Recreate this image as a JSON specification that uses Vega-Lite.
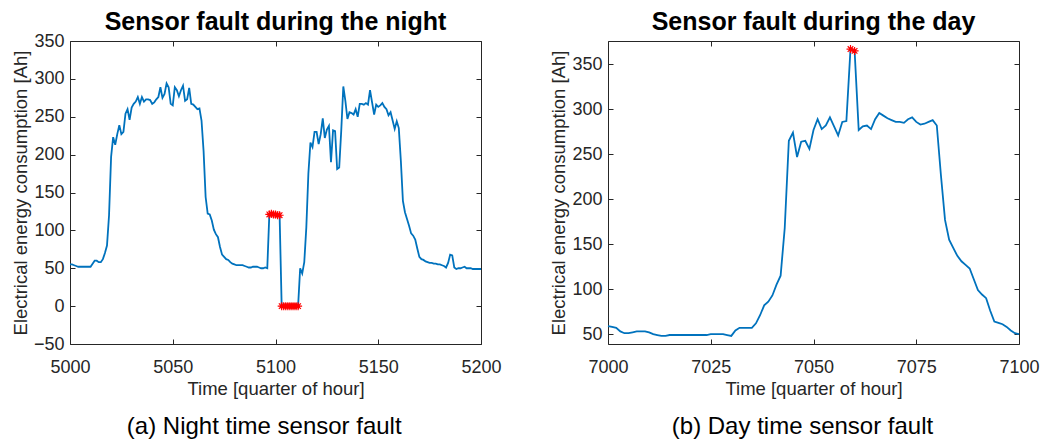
{
  "$schema": "https://vega.github.io/schema/vega-lite/v6.json",
  "background": "white",
  "padding": {"left": 11, "top": 9, "right": 5, "bottom": 0},
  "spacing": 47,
  "config": {
    "font": "Liberation Sans",
    "view": {"stroke": null},
    "axis": {
      "grid": false,
      "tickSize": -5,
      "domainColor": "#262626",
      "domainWidth": 1,
      "tickColor": "#262626",
      "labelColor": "#262626",
      "titleColor": "#262626",
      "labelFont": "Liberation Sans",
      "titleFont": "Liberation Sans",
      "labelFontSize": 18,
      "titleFontSize": 18.5,
      "titleFontWeight": "normal",
      "labelFlush": false,
      "labelOverlap": false,
      "format": "d"
    },
    "axisX": {"labelPadding": 19, "titlePadding": 3},
    "axisY": {"labelPadding": 11, "titlePadding": 3},
    "title": {"font": "Liberation Sans", "fontSize": 25, "fontWeight": "bold", "color": "#000000", "offset": 6}
  },
  "datasets": {
    "night": [
      {"t":5000,"v":55},{"t":5001,"v":55},{"t":5002,"v":54},{"t":5003,"v":53},{"t":5004,"v":52},{"t":5005,"v":52},{"t":5006,"v":52},{"t":5007,"v":52},{"t":5008,"v":52},{"t":5009,"v":52},
      {"t":5010,"v":52},{"t":5011,"v":56},{"t":5012,"v":60},{"t":5013,"v":60},{"t":5014,"v":58},{"t":5015,"v":58},{"t":5016,"v":62},{"t":5017,"v":70},{"t":5018,"v":80},{"t":5019,"v":120},
      {"t":5020,"v":197},{"t":5021,"v":223},{"t":5022,"v":213},{"t":5023,"v":227},{"t":5024,"v":239},{"t":5025,"v":227},{"t":5026,"v":230},{"t":5027,"v":254},{"t":5028,"v":260},{"t":5029,"v":246},
      {"t":5030,"v":262},{"t":5031,"v":267},{"t":5032,"v":270},{"t":5033,"v":276},{"t":5034,"v":267},{"t":5035,"v":276},{"t":5036,"v":270},{"t":5037,"v":273},{"t":5038,"v":273},{"t":5039,"v":272},
      {"t":5040,"v":267},{"t":5041,"v":269},{"t":5042,"v":273},{"t":5043,"v":276},{"t":5044,"v":289},{"t":5045,"v":275},{"t":5046,"v":280},{"t":5047,"v":294},{"t":5048,"v":289},{"t":5049,"v":267},
      {"t":5050,"v":265},{"t":5051,"v":289},{"t":5052,"v":285},{"t":5053,"v":277},{"t":5054,"v":285},{"t":5055,"v":291},{"t":5056,"v":271},{"t":5057,"v":273},{"t":5058,"v":288},{"t":5059,"v":267},
      {"t":5060,"v":266},{"t":5061,"v":263},{"t":5062,"v":260},{"t":5063,"v":261},{"t":5064,"v":245},{"t":5065,"v":205},{"t":5066,"v":144},{"t":5067,"v":122},{"t":5068,"v":121},{"t":5069,"v":113},
      {"t":5070,"v":101},{"t":5071,"v":95},{"t":5072,"v":91},{"t":5073,"v":78},{"t":5074,"v":68},{"t":5075,"v":65},{"t":5076,"v":62},{"t":5077,"v":61},{"t":5078,"v":58},{"t":5079,"v":56},
      {"t":5080,"v":55},{"t":5081,"v":54},{"t":5082,"v":54},{"t":5083,"v":54},{"t":5084,"v":54},{"t":5085,"v":53},{"t":5086,"v":52},{"t":5087,"v":51},{"t":5088,"v":51},{"t":5089,"v":52},
      {"t":5090,"v":52},{"t":5091,"v":52},{"t":5092,"v":51},{"t":5093,"v":50},{"t":5094,"v":50},{"t":5095,"v":51},{"t":5096,"v":50},{"t":5097,"v":121},{"t":5098,"v":122},{"t":5099,"v":121},
      {"t":5100,"v":121},{"t":5101,"v":120},{"t":5102,"v":120},{"t":5103,"v":0},{"t":5104,"v":0},{"t":5105,"v":0},{"t":5106,"v":0},{"t":5107,"v":0},{"t":5108,"v":0},{"t":5109,"v":0},
      {"t":5110,"v":0},{"t":5111,"v":0},{"t":5112,"v":50},{"t":5113,"v":43},{"t":5114,"v":58},{"t":5115,"v":104},{"t":5116,"v":175},{"t":5117,"v":216},{"t":5118,"v":210},{"t":5119,"v":230},
      {"t":5120,"v":230},{"t":5121,"v":214},{"t":5122,"v":227},{"t":5123,"v":248},{"t":5124,"v":222},{"t":5125,"v":233},{"t":5126,"v":238},{"t":5127,"v":190},{"t":5128,"v":232},{"t":5129,"v":231},
      {"t":5130,"v":181},{"t":5131,"v":183},{"t":5132,"v":232},{"t":5133,"v":290},{"t":5134,"v":271},{"t":5135,"v":247},{"t":5136,"v":256},{"t":5137,"v":255},{"t":5138,"v":253},{"t":5139,"v":260},
      {"t":5140,"v":250},{"t":5141,"v":267},{"t":5142,"v":267},{"t":5143,"v":266},{"t":5144,"v":268},{"t":5145,"v":266},{"t":5146,"v":285},{"t":5147,"v":269},{"t":5148,"v":253},{"t":5149,"v":266},
      {"t":5150,"v":263},{"t":5151,"v":265},{"t":5152,"v":268},{"t":5153,"v":263},{"t":5154,"v":260},{"t":5155,"v":252},{"t":5156,"v":256},{"t":5157,"v":245},{"t":5158,"v":234},{"t":5159,"v":244},
      {"t":5160,"v":235},{"t":5161,"v":192},{"t":5162,"v":139},{"t":5163,"v":124},{"t":5164,"v":115},{"t":5165,"v":106},{"t":5166,"v":96},{"t":5167,"v":93},{"t":5168,"v":88},{"t":5169,"v":76},
      {"t":5170,"v":65},{"t":5171,"v":62},{"t":5172,"v":61},{"t":5173,"v":59},{"t":5174,"v":58},{"t":5175,"v":57},{"t":5176,"v":57},{"t":5177,"v":56},{"t":5178,"v":56},{"t":5179,"v":55},
      {"t":5180,"v":55},{"t":5181,"v":54},{"t":5182,"v":53},{"t":5183,"v":51},{"t":5184,"v":57},{"t":5185,"v":68},{"t":5186,"v":67},{"t":5187,"v":51},{"t":5188,"v":49},{"t":5189,"v":50},
      {"t":5190,"v":50},{"t":5191,"v":51},{"t":5192,"v":52},{"t":5193,"v":50},{"t":5194,"v":50},{"t":5195,"v":50},{"t":5196,"v":49},{"t":5197,"v":49},{"t":5198,"v":49},{"t":5199,"v":49},
      {"t":5200,"v":49}
    ],
    "nightFault": [
      {"t":5097,"v":121},{"t":5098,"v":122},{"t":5099,"v":121},{"t":5100,"v":121},{"t":5101,"v":120},{"t":5102,"v":120},
      {"t":5103,"v":0},{"t":5104,"v":0},{"t":5105,"v":0},{"t":5106,"v":0},{"t":5107,"v":0},{"t":5108,"v":0},{"t":5109,"v":0},{"t":5110,"v":0},{"t":5111,"v":0}
    ],
    "day": [
      {"t":7000,"v":59},{"t":7001,"v":58},{"t":7002,"v":57},{"t":7003,"v":53},{"t":7004,"v":51},{"t":7005,"v":51},{"t":7006,"v":52},{"t":7007,"v":53},{"t":7008,"v":53},{"t":7009,"v":53},
      {"t":7010,"v":52},{"t":7011,"v":50},{"t":7012,"v":49},{"t":7013,"v":48},{"t":7014,"v":48},{"t":7015,"v":49},{"t":7016,"v":49},{"t":7017,"v":49},{"t":7018,"v":49},{"t":7019,"v":49},
      {"t":7020,"v":49},{"t":7021,"v":49},{"t":7022,"v":49},{"t":7023,"v":49},{"t":7024,"v":49},{"t":7025,"v":50},{"t":7026,"v":50},{"t":7027,"v":50},{"t":7028,"v":50},{"t":7029,"v":49},
      {"t":7030,"v":48},{"t":7031,"v":54},{"t":7032,"v":57},{"t":7033,"v":57},{"t":7034,"v":57},{"t":7035,"v":57},{"t":7036,"v":62},{"t":7037,"v":71},{"t":7038,"v":82},{"t":7039,"v":86},
      {"t":7040,"v":93},{"t":7041,"v":105},{"t":7042,"v":115},{"t":7043,"v":168},{"t":7044,"v":265},{"t":7045,"v":274},{"t":7046,"v":247},{"t":7047,"v":264},{"t":7048,"v":265},{"t":7049,"v":256},
      {"t":7050,"v":277},{"t":7051,"v":289},{"t":7052,"v":278},{"t":7053,"v":282},{"t":7054,"v":291},{"t":7055,"v":281},{"t":7056,"v":271},{"t":7057,"v":286},{"t":7058,"v":287},{"t":7059,"v":367},
      {"t":7060,"v":365},{"t":7061,"v":277},{"t":7062,"v":281},{"t":7063,"v":282},{"t":7064,"v":278},{"t":7065,"v":289},{"t":7066,"v":296},{"t":7067,"v":293},{"t":7068,"v":290},{"t":7069,"v":288},
      {"t":7070,"v":286},{"t":7071,"v":286},{"t":7072,"v":285},{"t":7073,"v":289},{"t":7074,"v":291},{"t":7075,"v":286},{"t":7076,"v":283},{"t":7077,"v":284},{"t":7078,"v":286},{"t":7079,"v":288},
      {"t":7080,"v":282},{"t":7081,"v":227},{"t":7082,"v":177},{"t":7083,"v":155},{"t":7084,"v":146},{"t":7085,"v":137},{"t":7086,"v":131},{"t":7087,"v":127},{"t":7088,"v":123},{"t":7089,"v":111},
      {"t":7090,"v":99},{"t":7091,"v":94},{"t":7092,"v":90},{"t":7093,"v":76},{"t":7094,"v":64},{"t":7095,"v":62.5},{"t":7096,"v":61},{"t":7097,"v":58},{"t":7098,"v":54},{"t":7099,"v":51},
      {"t":7100,"v":50}
    ],
    "dayFault": [
      {"t":7059,"v":367},{"t":7060,"v":365}
    ]
  },
  "hconcat": [
    {
      "title": {"text": "(a) Night time sensor fault", "orient": "bottom", "anchor": "middle", "fontSize": 24, "fontWeight": "normal", "color": "#000000", "offset": 17, "frame": "bounds", "dx": 8},
      "vconcat": [
        {
          "title": {"text": "Sensor fault during the night", "offset": -3},
          "width": 411,
          "height": 303,
          "layer": [
            {
              "data": {"name": "night"},
              "mark": {"type": "line", "color": "#0072BD", "strokeWidth": 1.8},
              "encoding": {
                "x": {"field": "t", "type": "quantitative", "scale": {"domain": [5000, 5200], "nice": false, "zero": false},
                      "axis": {"values": [5000, 5050, 5100, 5150, 5200], "title": "Time [quarter of hour]"}},
                "y": {"field": "v", "type": "quantitative", "scale": {"domain": [-50, 350], "nice": false, "zero": false},
                      "axis": {"values": [-50, 0, 50, 100, 150, 200, 250, 300, 350], "title": "Electrical energy consumption [Ah]"}}
              }
            },
            {
              "data": {"name": "nightFault"},
              "mark": {"type": "point", "shape": "M-1,0L1,0M0,-1L0,1M-0.7,-0.7L0.7,0.7M-0.7,0.7L0.7,-0.7", "filled": false, "color": "#FF0000", "size": 64, "strokeWidth": 1.2, "opacity": 1},
              "encoding": {
                "x": {"field": "t", "type": "quantitative", "axis": {"orient": "top", "labels": false, "title": null, "values": [5000, 5050, 5100, 5150, 5200]}},
                "y": {"field": "v", "type": "quantitative", "axis": {"orient": "right", "labels": false, "title": null, "values": [-50, 0, 50, 100, 150, 200, 250, 300, 350]}}
              }
            }
          ],
          "resolve": {"axis": {"x": "independent", "y": "independent"}}
        }
      ]
    },
    {
      "title": {"text": "(b) Day time sensor fault", "orient": "bottom", "anchor": "middle", "fontSize": 24, "fontWeight": "normal", "color": "#000000", "offset": 17, "frame": "bounds", "dx": 8},
      "vconcat": [
        {
          "title": {"text": "Sensor fault during the day", "offset": 6},
          "width": 411,
          "height": 303,
          "layer": [
            {
              "data": {"name": "day"},
              "mark": {"type": "line", "color": "#0072BD", "strokeWidth": 1.8},
              "encoding": {
                "x": {"field": "t", "type": "quantitative", "scale": {"domain": [7000, 7100], "nice": false, "zero": false},
                      "axis": {"values": [7000, 7025, 7050, 7075, 7100], "title": "Time [quarter of hour]"}},
                "y": {"field": "v", "type": "quantitative", "scale": {"domain": [39, 376], "nice": false, "zero": false},
                      "axis": {"values": [50, 100, 150, 200, 250, 300, 350], "title": "Electrical energy consumption [Ah]"}}
              }
            },
            {
              "data": {"name": "dayFault"},
              "mark": {"type": "point", "shape": "M-1,0L1,0M0,-1L0,1M-0.7,-0.7L0.7,0.7M-0.7,0.7L0.7,-0.7", "filled": false, "color": "#FF0000", "size": 64, "strokeWidth": 1.2, "opacity": 1},
              "encoding": {
                "x": {"field": "t", "type": "quantitative", "axis": {"orient": "top", "labels": false, "title": null, "values": [7000, 7025, 7050, 7075, 7100]}},
                "y": {"field": "v", "type": "quantitative", "axis": {"orient": "right", "labels": false, "title": null, "values": [50, 100, 150, 200, 250, 300, 350]}}
              }
            }
          ],
          "resolve": {"axis": {"x": "independent", "y": "independent"}}
        }
      ]
    }
  ]
}
